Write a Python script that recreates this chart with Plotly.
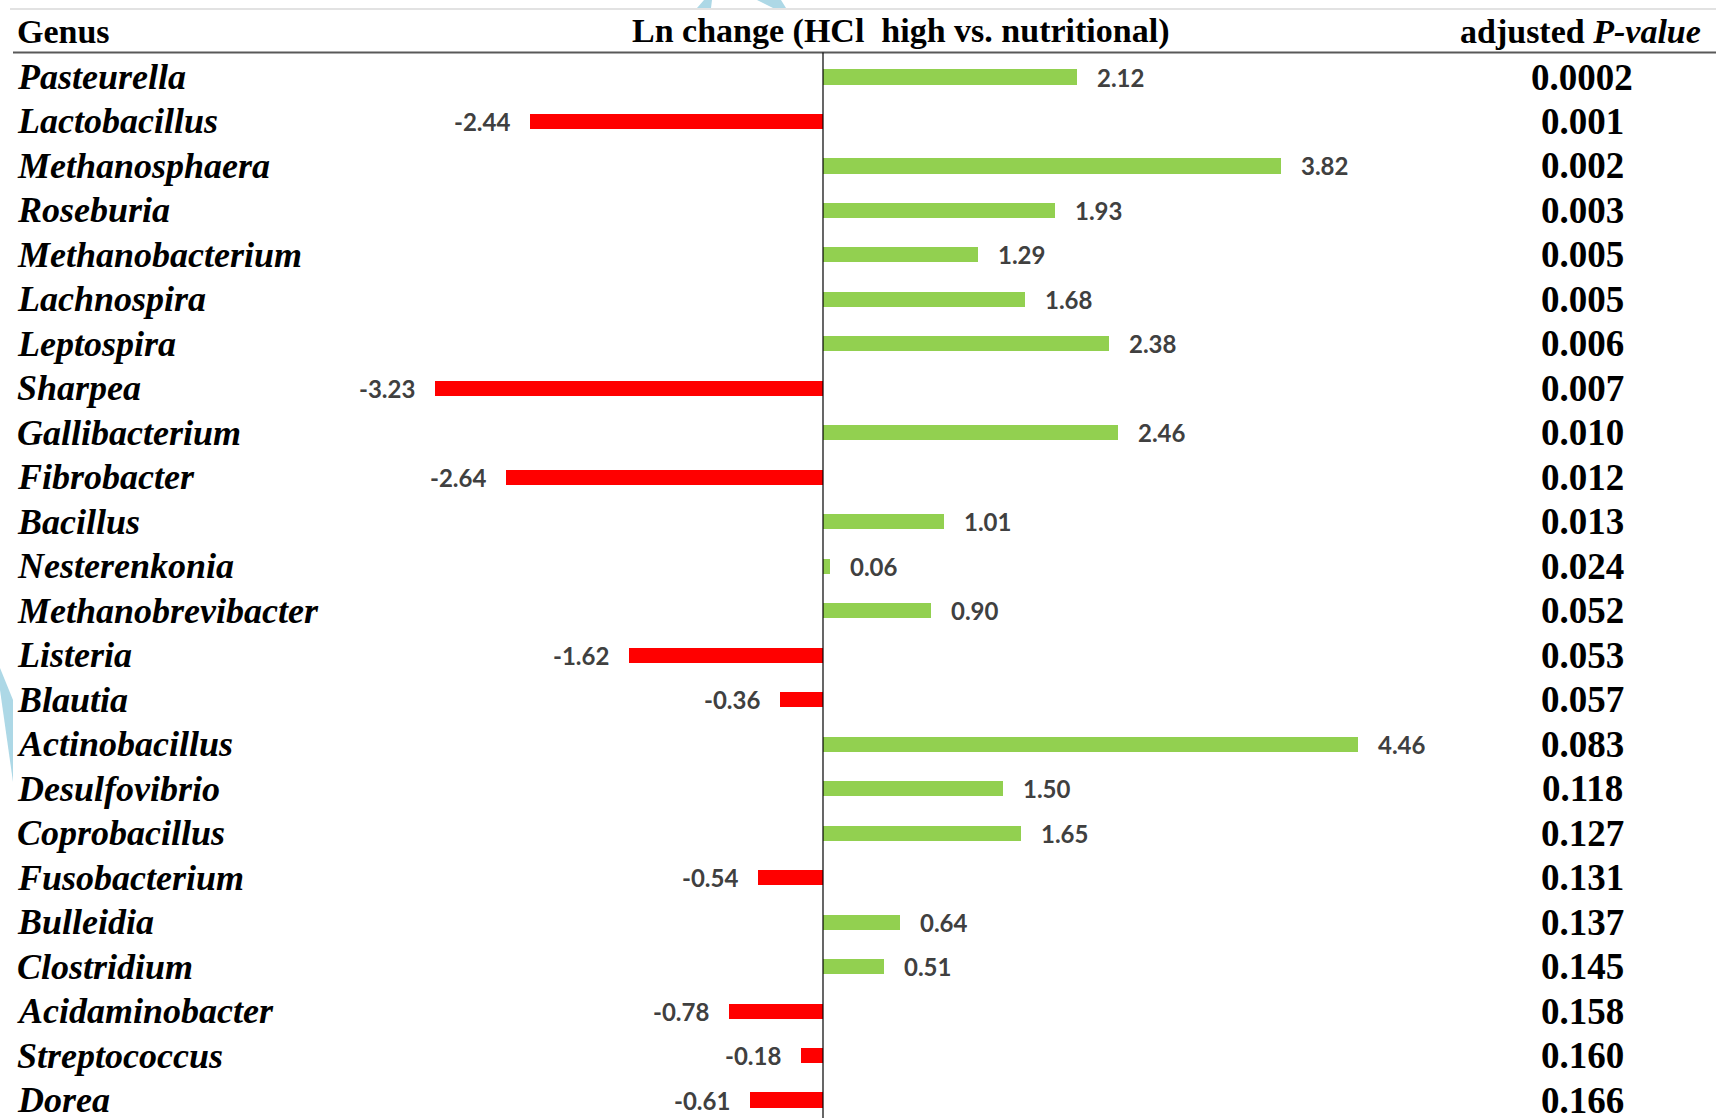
import plotly.graph_objects as go

# Genus-level differences, ordered by adjusted P-value
genera = [
    "Pasteurella", "Lactobacillus", "Methanosphaera", "Roseburia", "Methanobacterium",
    "Lachnospira", "Leptospira", "Sharpea", "Gallibacterium", "Fibrobacter",
    "Bacillus", "Nesterenkonia", "Methanobrevibacter", "Listeria", "Blautia",
    "Actinobacillus", "Desulfovibrio", "Coprobacillus", "Fusobacterium", "Bulleidia",
    "Clostridium", "Acidaminobacter", "Streptococcus", "Dorea",
]
ln_change = [
    2.12, -2.44, 3.82, 1.93, 1.29,
    1.68, 2.38, -3.23, 2.46, -2.64,
    1.01, 0.06, 0.90, -1.62, -0.36,
    4.46, 1.50, 1.65, -0.54, 0.64,
    0.51, -0.78, -0.18, -0.61,
]
p_adj = [
    "0.0002", "0.001", "0.002", "0.003", "0.005",
    "0.005", "0.006", "0.007", "0.010", "0.012",
    "0.013", "0.024", "0.052", "0.053", "0.057",
    "0.083", "0.118", "0.127", "0.131", "0.137",
    "0.145", "0.158", "0.160", "0.166",
]

W, H = 1716, 1118
GREEN = "#92D050"
RED = "#FF0000"
SERIF = "Liberation Serif"
LABEL_FONT = "Lato"

colors = [GREEN if v >= 0 else RED for v in ln_change]

fig = go.Figure(
    go.Bar(
        x=ln_change,
        y=genera,
        orientation="h",
        marker=dict(color=colors, line=dict(width=0)),
        width=0.34,
        hoverinfo="x+y",
    )
)

annotations = []

# value labels beside each bar
for g, v in zip(genera, ln_change):
    annotations.append(dict(
        x=v, y=g, xref="x", yref="y",
        text=f"{v:.2f}", showarrow=False,
        xanchor="left" if v >= 0 else "right",
        xshift=18 if v >= 0 else -18,
        font=dict(family=LABEL_FONT, size=24, color="#404040", weight="bold"),
    ))

# genus names on the left
for g in genera:
    annotations.append(dict(
        x=15 / W, y=g, xref="paper", yref="y",
        text=g, showarrow=False, xanchor="left",
        font=dict(family=SERIF, size=36, color="black", weight="bold", style="italic"),
    ))

# adjusted P-values on the right
for g, p in zip(genera, p_adj):
    annotations.append(dict(
        x=1582 / W, y=g, xref="paper", yref="y",
        text=p, showarrow=False, xanchor="center",
        font=dict(family=SERIF, size=37, color="black", weight="bold"),
    ))

# column headers
hy = 1 - 31 / H
header_font = dict(family=SERIF, size=34, color="black", weight="bold")
annotations += [
    dict(x=15 / W, y=hy, xref="paper", yref="paper", text="Genus",
         showarrow=False, xanchor="left", yanchor="middle", font=header_font),
    dict(x=900 / W, y=hy, xref="paper", yref="paper",
         text="Ln change (HCl&nbsp; high vs. nutritional)",
         showarrow=False, xanchor="center", yanchor="middle", font=header_font),
    dict(x=1580 / W, y=hy, xref="paper", yref="paper",
         text="adjusted <i>P-value</i>",
         showarrow=False, xanchor="center", yanchor="middle", font=header_font),
]


def pp(x, y):
    return f"{x / W:.5f},{1 - y / H:.5f}"


shapes = [
    # thin rule above the header
    dict(type="line", xref="paper", yref="paper",
         x0=10 / W, x1=1, y0=1 - 9 / H, y1=1 - 9 / H,
         line=dict(color="#D9D9D9", width=1.5)),
    # rule below the header
    dict(type="line", xref="paper", yref="paper",
         x0=13 / W, x1=1, y0=1 - 52.5 / H, y1=1 - 52.5 / H,
         line=dict(color="#595959", width=2)),
    # zero line
    dict(type="line", xref="x", yref="paper",
         x0=0, x1=0, y0=0, y1=1 - 52.5 / H,
         line=dict(color="black", width=1.2)),
    # faint blue stamp fragments
    dict(type="path", xref="paper", yref="paper", layer="below",
         path=f"M{pp(697, 8)} L{pp(704, 0)} L{pp(712, 0)} L{pp(711, 8)} Z",
         fillcolor="#ADD8E6", line=dict(width=0)),
    dict(type="path", xref="paper", yref="paper", layer="below",
         path=f"M{pp(757, 0)} L{pp(781, 0)} L{pp(786, 8)} L{pp(773, 8)} Z",
         fillcolor="#ADD8E6", line=dict(width=0)),
    dict(type="path", xref="paper", yref="paper", layer="below",
         path=f"M{pp(0, 668)} L{pp(13, 700)} L{pp(13, 782)} L{pp(0, 690)} Z",
         fillcolor="#ADD8E6", line=dict(width=0)),
]

# axis ranges: 120 px per Ln unit with zero at x=823; 44.5 px per row starting at y=77
px_per_unit = 120.0
x0_px = 823.0
row_px = 44.48
first_row_px = 77.0
x_range = [-x0_px / px_per_unit, (W - x0_px) / px_per_unit]
y_top = -first_row_px / row_px
y_bottom = y_top + H / row_px

fig.update_layout(
    width=W, height=H,
    margin=dict(l=0, r=0, t=0, b=0),
    paper_bgcolor="white", plot_bgcolor="white",
    showlegend=False,
    xaxis=dict(range=x_range, visible=False, fixedrange=True),
    yaxis=dict(type="category", categoryorder="array", categoryarray=genera,
               range=[y_bottom, y_top], visible=False, fixedrange=True),
    annotations=annotations,
    shapes=shapes,
    bargap=0,
)

fig.write_html("out.html")
